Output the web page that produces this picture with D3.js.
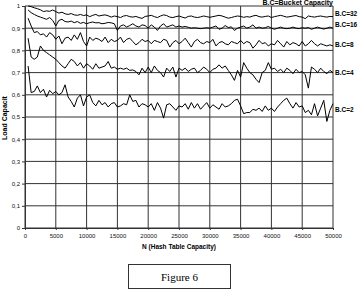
<!DOCTYPE html>
<html>
<head>
<meta charset="utf-8">
<script src="https://cdn.jsdelivr.net/npm/d3@7"></script>
<style>
  body { margin: 0; background: #fff; }
  svg { display: block; }
</style>
</head>
<body>
<svg id="chart"></svg>
<script>
// capacities of the hash table (x), step 500
var capacity = d3.range(500, 50001, 500);

var bc32 = [1.0, 0.997, 0.992, 0.988, 0.983, 0.975, 0.978, 0.976, 0.982, 0.975,
  0.968, 0.972, 0.965, 0.962, 0.966, 0.96, 0.958, 0.962, 0.957, 0.96,
  0.952, 0.958, 0.962, 0.955, 0.958, 0.96, 0.956, 0.95, 0.955, 0.952,
  0.948, 0.955, 0.957, 0.952, 0.95, 0.953, 0.948, 0.944, 0.953, 0.955,
  0.958, 0.952, 0.948, 0.955, 0.96, 0.957, 0.95, 0.948, 0.952, 0.955,
  0.95, 0.946, 0.953, 0.955, 0.95, 0.948, 0.951, 0.955, 0.952, 0.949,
  0.952, 0.955, 0.958, 0.955, 0.95, 0.945, 0.948, 0.952, 0.955, 0.953,
  0.949, 0.952, 0.95, 0.955, 0.958, 0.952, 0.95, 0.953, 0.955, 0.948,
  0.952, 0.955, 0.958, 0.954, 0.95, 0.952, 0.955, 0.957, 0.952, 0.95,
  0.943, 0.955, 0.952, 0.95, 0.953, 0.955, 0.952, 0.95, 0.953, 0.952];

var bc16 = [0.982, 0.97, 0.962, 0.955, 0.95, 0.945, 0.94, 0.948, 0.935, 0.91,
  0.935, 0.94, 0.93, 0.928, 0.932, 0.925, 0.93, 0.922, 0.926, 0.92,
  0.925, 0.928, 0.924, 0.925, 0.92, 0.922, 0.926, 0.924, 0.92, 0.89,
  0.91, 0.915, 0.905, 0.912, 0.92, 0.91, 0.905, 0.915, 0.912, 0.9,
  0.915, 0.905, 0.89, 0.91, 0.92, 0.905, 0.91, 0.915, 0.905, 0.91,
  0.905, 0.908, 0.904, 0.9, 0.902, 0.9, 0.898, 0.9, 0.902, 0.9,
  0.905, 0.91, 0.895, 0.9, 0.912, 0.903, 0.906, 0.89, 0.9, 0.905,
  0.91, 0.9, 0.905, 0.915, 0.9, 0.905, 0.9, 0.902, 0.908, 0.9,
  0.895, 0.9, 0.905, 0.9, 0.898, 0.9, 0.905, 0.9, 0.898, 0.902,
  0.9, 0.903, 0.895, 0.9, 0.905, 0.9, 0.896, 0.9, 0.905, 0.9];

var bc8 = [0.945, 0.91, 0.88, 0.885, 0.87, 0.875, 0.86, 0.88, 0.87, 0.85,
  0.865, 0.83, 0.855, 0.86, 0.845, 0.87, 0.85, 0.88, 0.84, 0.82,
  0.86, 0.845, 0.855, 0.85, 0.84, 0.86, 0.835, 0.85, 0.84, 0.845,
  0.86, 0.835, 0.85, 0.855, 0.84, 0.825, 0.835, 0.85, 0.84, 0.845,
  0.83, 0.845, 0.84, 0.835, 0.85, 0.845, 0.815, 0.835, 0.845, 0.83,
  0.84, 0.855, 0.835, 0.815, 0.84, 0.85, 0.835, 0.83, 0.84, 0.835,
  0.85, 0.82, 0.835, 0.84, 0.83, 0.825, 0.84, 0.835, 0.83, 0.845,
  0.83, 0.84, 0.835, 0.81, 0.825, 0.845, 0.83, 0.835, 0.82, 0.83,
  0.825, 0.845, 0.83, 0.815, 0.84, 0.825, 0.835, 0.83, 0.82, 0.84,
  0.82, 0.83, 0.845, 0.83, 0.82, 0.83, 0.825, 0.82, 0.825, 0.82];

var bc4 = [0.855, 0.77, 0.76, 0.77, 0.82, 0.8, 0.79, 0.78, 0.77, 0.76,
  0.745, 0.73, 0.72, 0.74, 0.76, 0.75, 0.73, 0.745, 0.72, 0.74,
  0.73, 0.715, 0.74, 0.72, 0.725, 0.73, 0.75, 0.72, 0.725, 0.715,
  0.72, 0.715, 0.72, 0.71, 0.712, 0.705, 0.69, 0.72, 0.7, 0.725,
  0.7, 0.73, 0.71, 0.7, 0.68, 0.72, 0.705, 0.725, 0.68, 0.72,
  0.71, 0.72, 0.705, 0.715, 0.72, 0.7, 0.71, 0.725, 0.715, 0.7,
  0.715, 0.72, 0.735, 0.72, 0.73, 0.71, 0.69, 0.665, 0.71, 0.68,
  0.745, 0.72, 0.7, 0.69, 0.67, 0.655, 0.7, 0.71, 0.745, 0.715,
  0.72, 0.705, 0.715, 0.7, 0.72, 0.71, 0.695, 0.715, 0.7, 0.705,
  0.69, 0.63, 0.725, 0.715, 0.7, 0.72, 0.705, 0.695, 0.71, 0.7];

var bc2 = [0.73, 0.61, 0.615, 0.64, 0.61, 0.625, 0.59, 0.62, 0.605, 0.615,
  0.6, 0.61, 0.645, 0.59, 0.57, 0.545, 0.585, 0.6, 0.55, 0.59,
  0.6, 0.565, 0.55, 0.575, 0.555, 0.565, 0.545, 0.56, 0.565, 0.545,
  0.55, 0.56, 0.555, 0.6, 0.57, 0.575, 0.545, 0.56, 0.555, 0.545,
  0.56, 0.53, 0.565, 0.54, 0.495, 0.555, 0.56, 0.545, 0.53, 0.55,
  0.545, 0.56, 0.535, 0.565, 0.54, 0.56, 0.535, 0.55, 0.565, 0.54,
  0.555, 0.545, 0.535, 0.56, 0.545, 0.55, 0.56, 0.575, 0.58, 0.55,
  0.515, 0.52, 0.52, 0.535, 0.53, 0.54, 0.525, 0.55, 0.53, 0.54,
  0.525, 0.545, 0.56, 0.575, 0.585, 0.56, 0.54, 0.565, 0.545, 0.55,
  0.52, 0.53, 0.51, 0.56, 0.505, 0.54, 0.575, 0.48, 0.53, 0.56];

var seriesNames = ["B.C=32", "B.C=16", "B.C=8", "B.C=4", "B.C=2"];
var seriesValues = [bc32, bc16, bc8, bc4, bc2];
var xTicks = d3.range(0, 50001, 5000);
var yTicks = d3.range(0, 11).map(function(i) { return i / 10; });

function drawChart() {
  var width = 359, height = 307;
  var mLeft = 25, mRight = 333, mTop = 6, mBottom = 228;

  var svg = d3.select("#chart")
      .attr("width", width)
      .attr("height", height);

  svg.append("rect")
      .attr("width", width)
      .attr("height", height)
      .attr("fill", "#fff");

  var x = d3.scaleLinear().domain([0, 50000]).range([mLeft, mRight]);
  var y = d3.scaleLinear().domain([0, 1]).range([mBottom, mTop]);

  var font = "'Liberation Sans', Arial, sans-serif";

  // grid lines
  svg.append("g")
      .selectAll("line")
      .data(xTicks)
      .enter().append("line")
      .attr("x1", function(d) { return x(d); })
      .attr("x2", function(d) { return x(d); })
      .attr("y1", mTop)
      .attr("y2", mBottom)
      .attr("stroke", "#333")
      .attr("stroke-width", 1);

  svg.append("g")
      .selectAll("line")
      .data(yTicks)
      .enter().append("line")
      .attr("x1", mLeft)
      .attr("x2", mRight)
      .attr("y1", function(d) { return y(d); })
      .attr("y2", function(d) { return y(d); })
      .attr("stroke", "#333")
      .attr("stroke-width", 1);

  // y axis, comma decimals
  var fmt = function(d) {
    if (d === 0) return "0";
    if (d === 1) return "1";
    return d3.format(".1f")(d).replace(".", ",");
  };

  var yAxis = svg.append("g")
      .attr("transform", "translate(" + mLeft + ",0)")
      .call(d3.axisLeft(y).tickValues(yTicks).tickFormat(fmt).tickSize(3).tickPadding(2));
  yAxis.select(".domain").attr("stroke", "#333");
  yAxis.selectAll("line").attr("stroke", "#333");
  yAxis.selectAll("text")
      .attr("font-family", font)
      .attr("font-size", 6)
      .attr("fill", "#111");

  // x axis
  var xAxis = svg.append("g")
      .attr("transform", "translate(0," + mBottom + ")")
      .call(d3.axisBottom(x).tickValues(xTicks).tickFormat(d3.format("d")).tickSize(2).tickPadding(4));
  xAxis.select(".domain").attr("stroke", "#333");
  xAxis.selectAll("line").attr("stroke", "#333");
  xAxis.selectAll("text")
      .attr("font-family", font)
      .attr("font-size", 6)
      .attr("fill", "#111");

  // lines
  var line = d3.line()
      .x(function(d, i) { return x(capacity[i]); })
      .y(function(d) { return y(d); });

  svg.append("g")
      .selectAll("path")
      .data(seriesValues)
      .enter().append("path")
      .attr("d", line)
      .attr("fill", "none")
      .attr("stroke", "#000")
      .attr("stroke-width", 1);

  // series labels on the right, top two nudged up to keep them apart
  var nudge = [-3, -3, 0, 0, 0];
  svg.append("g")
      .selectAll("text")
      .data(seriesNames)
      .enter().append("text")
      .attr("x", mRight + 2)
      .attr("y", function(d, i) {
        var v = seriesValues[i];
        return y(d3.mean(v.slice(v.length - 10))) + nudge[i] + 2.3;
      })
      .attr("font-family", font)
      .attr("font-size", 6.5)
      .attr("font-weight", "bold")
      .text(function(d) { return d; });

  svg.append("text")
      .attr("x", mRight)
      .attr("y", 5)
      .attr("text-anchor", "end")
      .attr("font-family", font)
      .attr("font-size", 7)
      .attr("font-weight", "bold")
      .text("B.C=Bucket Capacity");

  // axis titles
  svg.append("text")
      .attr("transform", "translate(7,140) rotate(-90)")
      .attr("font-family", font)
      .attr("font-size", 7)
      .attr("font-weight", "bold")
      .text("Load Capacit");

  svg.append("text")
      .attr("x", (mLeft + mRight) / 2)
      .attr("y", 249)
      .attr("text-anchor", "middle")
      .attr("font-family", font)
      .attr("font-size", 6.5)
      .attr("font-weight", "bold")
      .text("N (Hash Table Capacity)");

  // caption box
  svg.append("rect")
      .attr("x", 128.5)
      .attr("y", 264.5)
      .attr("width", 102)
      .attr("height", 24)
      .attr("fill", "none")
      .attr("stroke", "#333")
      .attr("stroke-width", 1);

  svg.append("text")
      .attr("x", 179.5)
      .attr("y", 280.5)
      .attr("text-anchor", "middle")
      .attr("font-family", "'Liberation Serif', 'Times New Roman', serif")
      .attr("font-size", 11)
      .text("Figure 6");
}

drawChart();
</script>
</body>
</html>
